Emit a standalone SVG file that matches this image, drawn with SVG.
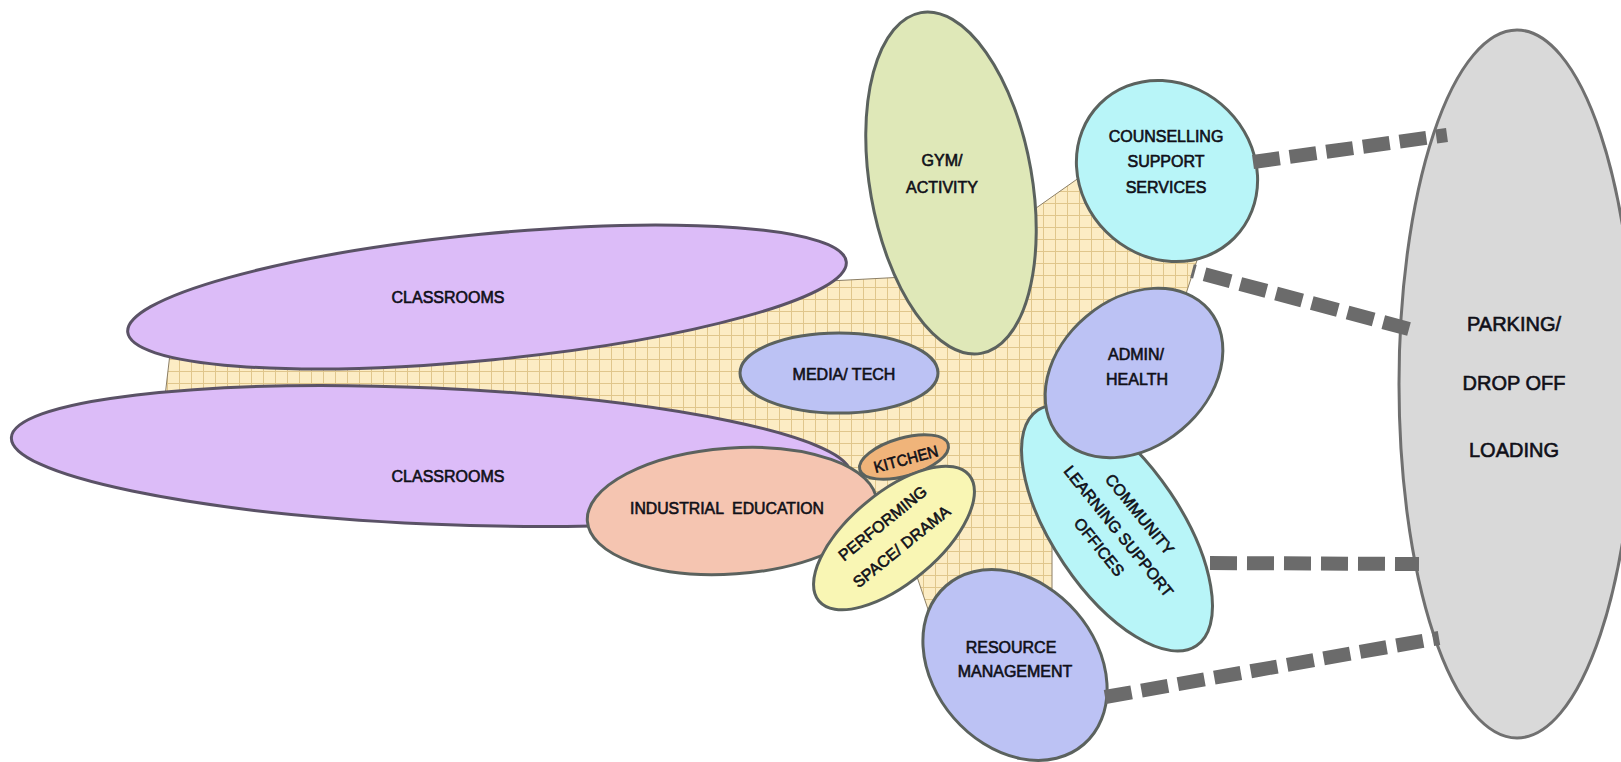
<svg xmlns="http://www.w3.org/2000/svg" width="1621" height="762" viewBox="0 0 1621 762">
<defs>
<pattern id="grid" width="12" height="12" patternUnits="userSpaceOnUse">
<rect width="12" height="12" fill="#fcecc4"/>
<path d="M11.5 0V12M0 11.5H12" stroke="#e0c68c" stroke-width="1" fill="none"/>
</pattern>
<style>
.n{stroke:#5b625e;stroke-width:3}
.cls{fill:#dcbcf8;stroke:#5a5266;stroke-width:3}
.blue{fill:#bcc2f4}
.cyan{fill:#b8f5f8}
.t{font-family:"Liberation Sans",Arial,sans-serif;font-size:16px;fill:#101018;stroke:#101018;stroke-width:0.6;text-anchor:middle}
.big{font-size:20px}
.c{fill:none;stroke:#6b6b6b;stroke-width:14;stroke-dasharray:27 10}
</style>
</defs>
<rect width="1621" height="762" fill="#fff"/>
<polygon id="circulation" points="171,345 810,282 905,277 995,237 1100,163 1205,236 1178,318 1090,420 1052,530 1052,625 935,630 912,562 870,520 850,490 800,460 600,420 164,405" fill="url(#grid)" stroke="#8c7f66" stroke-width="1"/>

<g id="parking">
<ellipse cx="1517" cy="384" rx="118" ry="354" fill="#d9d9d9" stroke="#707070" stroke-width="3"/>
<text class="t big" x="1514" y="331">PARKING/</text>
<text class="t big" x="1514" y="390">DROP OFF</text>
<text class="t big" x="1514" y="457">LOADING</text>
</g>

<g id="classrooms-top">
<ellipse class="cls" cx="487" cy="297" rx="361" ry="63" transform="rotate(-5.6 487 297)"/>
<text class="t" x="448" y="303">CLASSROOMS</text>
</g>

<g id="classrooms-bottom">
<ellipse class="cls" cx="431" cy="456" rx="420" ry="68" transform="rotate(2.5 431 456)"/>
<text class="t" x="448" y="482">CLASSROOMS</text>
</g>

<g id="gym">
<ellipse class="n" cx="951" cy="183" rx="81" ry="173" fill="#dfe8b8" transform="rotate(-10 951 183)"/>
<text class="t" x="942" y="166">GYM/</text>
<text class="t" x="942" y="193">ACTIVITY</text>
</g>

<g id="media-tech">
<ellipse class="n blue" cx="839" cy="373" rx="99" ry="40"/>
<text class="t" x="844" y="380">MEDIA/ TECH</text>
</g>

<g id="counselling">
<ellipse class="n cyan" cx="1167" cy="171" rx="95" ry="86" transform="rotate(45 1167 171)"/>
<text class="t" x="1166" y="142">COUNSELLING</text>
<text class="t" x="1166" y="167">SUPPORT</text>
<text class="t" x="1166" y="193">SERVICES</text>
</g>

<g id="community">
<ellipse class="n cyan" cx="1117" cy="528" rx="142" ry="64" transform="rotate(56 1117 528)"/>
<g transform="translate(1119 531) rotate(51)">
<text class="t" x="0" y="-21">COMMUNITY</text>
<text class="t" x="0" y="6">LEARNING SUPPORT</text>
<text class="t" x="0" y="31">OFFICES</text>
</g>
</g>

<g id="admin-health">
<ellipse class="n blue" cx="1134" cy="373" rx="98" ry="74" transform="rotate(-40 1134 373)"/>
<text class="t" x="1136" y="360">ADMIN/</text>
<text class="t" x="1137" y="385">HEALTH</text>
</g>

<g id="industrial-education">
<ellipse class="n" cx="732" cy="511" rx="145" ry="63" fill="#f5c5b1" transform="rotate(-4 732 511)"/>
<text class="t" x="727" y="514" textLength="194" lengthAdjust="spacingAndGlyphs" style="white-space:pre">INDUSTRIAL  EDUCATION</text>
</g>

<g id="kitchen">
<ellipse class="n" cx="904" cy="457" rx="46" ry="19" fill="#f0b47a" transform="rotate(-16 904 457)"/>
<text class="t" x="0" y="0" transform="translate(906 459) rotate(-15) translate(0 5.7)" textLength="66" lengthAdjust="spacingAndGlyphs">KITCHEN</text>
</g>

<g id="performing">
<ellipse class="n" cx="894" cy="538" rx="98" ry="45" fill="#f9f6b4" transform="rotate(-40 894 538)"/>
<g transform="translate(892 535) rotate(-39)">
<text class="t" x="0" y="-9.5">PERFORMING</text>
<text class="t" x="0" y="20.5">SPACE/ DRAMA</text>
</g>
</g>

<g id="resource">
<ellipse class="n blue" cx="1015" cy="665" rx="105" ry="81" transform="rotate(49 1015 665)"/>
<text class="t" x="1011" y="653">RESOURCE</text>
<text class="t" x="1015" y="677">MANAGEMENT</text>
</g>

<g id="connectors">
<line class="c" x1="1253" y1="162" x2="1447" y2="135"/>
<line class="c" x1="1192" y1="271" x2="1409" y2="329" stroke-dashoffset="24"/>
<line class="c" x1="1210" y1="563" x2="1419" y2="564"/>
<line class="c" x1="1105" y1="697" x2="1439" y2="638"/>
</g>
</svg>
